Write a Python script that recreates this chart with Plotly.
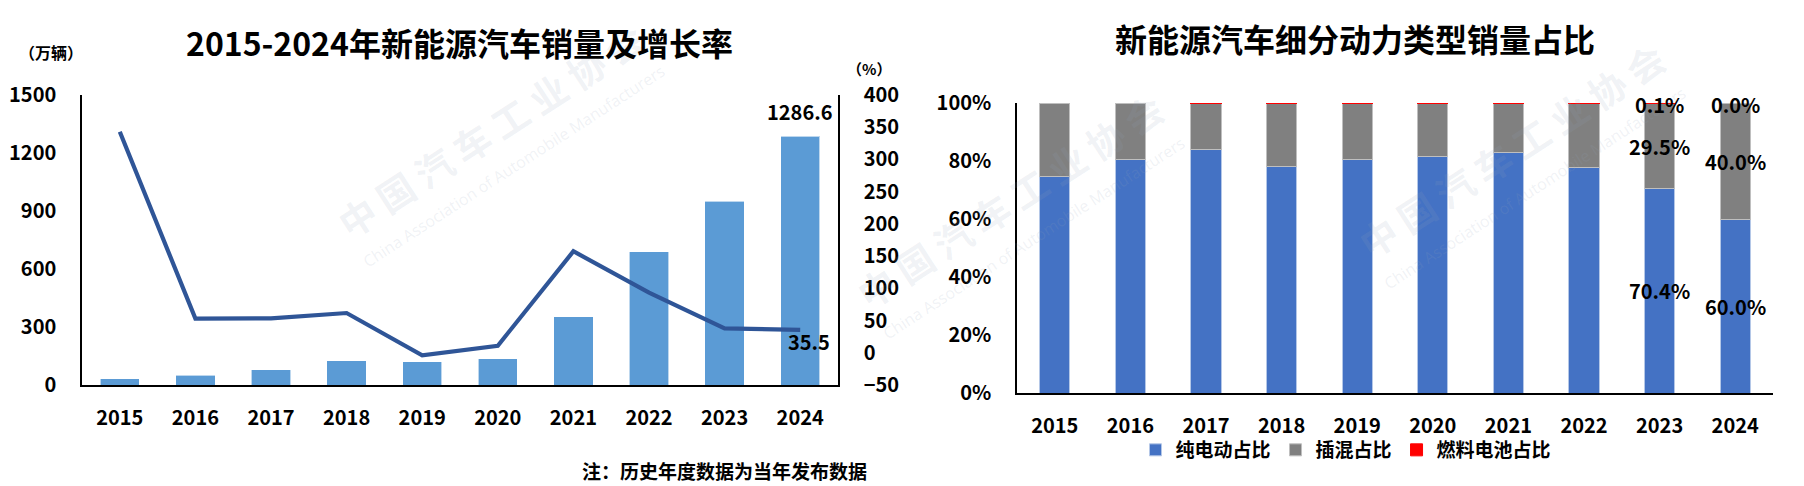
import plotly.graph_objects as go

# ---------------- data ----------------
years = [2015, 2016, 2017, 2018, 2019, 2020, 2021, 2022, 2023, 2024]
year_labels = ["2015", "2016", "2017", "2018", "2019", "2020", "2021", "2022", "2023", "2024"]
sales = [33.1, 50.7, 77.7, 125.6, 120.6, 136.7, 352.1, 688.7, 949.5, 1286.6]      # 万辆
growth = [342.9, 53.0, 53.3, 61.7, -4.0, 10.9, 157.5, 93.4, 37.9, 35.5]           # %

bev_share = [74.7, 80.6, 84.0, 78.0, 80.6, 81.5, 82.8, 77.8, 70.4, 60.0]
phev_share = [25.3, 19.4, 15.7, 21.7, 19.1, 18.2, 16.9, 21.9, 29.5, 40.0]
fcv_share = [None, None, 0.3, 0.3, 0.4, 0.3, 0.3, 0.3, 0.1, None]
fcv_label = [0.0, 0.0, 0.3, 0.3, 0.4, 0.3, 0.3, 0.3, 0.1, 0.0]
labeled_years = [2023, 2024]

left_title = "2015-2024年新能源汽车销量及增长率"
right_title = "新能源汽车细分动力类型销量占比"
note = "注：历史年度数据为当年发布数据"
wm_cn = "中 国 汽 车 工 业 协 会"
wm_en = "China Association of Automobile Manufacturers"

W, H = 1804, 486
FONT = "Noto Sans CJK SC"


def px(x):
    return x / W


def py(y):
    return 1 - y / H


fig = go.Figure()

# ---------- left chart ----------
fig.add_trace(go.Bar(
    x=years, y=sales, name="销量", marker=dict(color="#5B9BD5", line=dict(color="rgba(255,255,255,0.6)", width=1)),
    width=0.52, xaxis="x", yaxis="y", showlegend=False))
fig.add_trace(go.Scatter(
    x=years, y=growth, name="增长率", mode="lines", line=dict(color="#2F5597", width=4.2),
    xaxis="x", yaxis="y2", showlegend=False))

# ---------- right chart ----------
fig.add_trace(go.Bar(x=years, y=bev_share, name="纯电动占比", marker=dict(color="#4472C4", line=dict(color="#B4C7E7", width=1)),
                     width=0.4, xaxis="x3", yaxis="y3"))
fig.add_trace(go.Bar(x=years, y=phev_share, name="插混占比", marker=dict(color="#808080", line=dict(color="#BFBFBF", width=1)),
                     width=0.4, xaxis="x3", yaxis="y3"))
fig.add_trace(go.Bar(x=years, y=fcv_share, name="燃料电池占比", marker=dict(color="#FF0000", line=dict(color="#FF0000", width=1)),
                     width=0.4, xaxis="x3", yaxis="y3"))

tf = dict(family=FONT, size=20, color="#000000", weight="bold")
axis_line = dict(showline=True, linecolor="#000000", linewidth=1.5, showgrid=False, zeroline=False, ticks="",
                 tickfont=tf, automargin=False)
xcommon = dict(range=[years[0] - 0.5, years[-1] + 0.5], tickmode="array", tickvals=years, ticktext=year_labels,
               ticklabelstandoff=14, **axis_line)

L_dom = [px(82), px(838)]
L_ydom = [py(385), py(95)]
R_dom = [px(1017), px(1773)]
R_ydom = [py(393), py(103)]

fig.update_layout(
    width=W, height=H, margin=dict(l=0, r=0, t=0, b=0, pad=0),
    paper_bgcolor="white", plot_bgcolor="rgba(0,0,0,0)",
    font=dict(family=FONT, size=18, color="#000000", weight="bold"),
    barmode="stack",
    xaxis=dict(domain=L_dom, anchor="y", **xcommon),
    yaxis=dict(domain=L_ydom, anchor="x", range=[0, 1500], dtick=300, tick0=0, ticklabelstandoff=20, **axis_line),
    yaxis2=dict(domain=L_ydom, anchor="x", overlaying="y", side="right", range=[-50, 400], dtick=50, tick0=0,
                ticklabelstandoff=20, **axis_line),
    xaxis3=dict(domain=R_dom, anchor="y3", **xcommon),
    yaxis3=dict(domain=R_ydom, anchor="x3", range=[0, 100], dtick=20, ticksuffix="%", ticklabelstandoff=20, **axis_line),
    legend=dict(orientation="h", x=px(1346), xanchor="center", y=py(450), yanchor="middle",
                font=dict(family=FONT, size=19, color="#000000", weight="bold"),
                traceorder="normal", bgcolor="rgba(0,0,0,0)", itemwidth=30),
)

ann = []
# watermarks
wm_color = "rgba(150,162,184,0.15)"
for (cx, cy), (ex, ey) in [((490, 130), (514, 166)), ((1010, 200), (1034, 238)), ((1511, 150), (1535, 188))]:
    ann.append(dict(xref="paper", yref="paper", x=px(cx), y=py(cy), xanchor="center", yanchor="middle",
                    text=wm_cn, showarrow=False, textangle=-33,
                    font=dict(family=FONT, size=37, color=wm_color, weight="bold")))
    ann.append(dict(xref="paper", yref="paper", x=px(ex), y=py(ey), xanchor="center", yanchor="middle",
                    text=wm_en, showarrow=False, textangle=-33,
                    font=dict(family="Open Sans", size=16, color=wm_color, weight="normal")))

# titles
ann.append(dict(xref="paper", yref="paper", x=px(459), y=py(42), xanchor="center", yanchor="middle", text=left_title,
                showarrow=False, font=dict(family=FONT, size=32, color="#000000", weight="bold")))
ann.append(dict(xref="paper", yref="paper", x=px(1355), y=py(38), xanchor="center", yanchor="middle", text=right_title,
                showarrow=False, font=dict(family=FONT, size=32, color="#000000", weight="bold")))
# unit labels
ann.append(dict(xref="paper", yref="paper", x=px(51), y=py(52), xanchor="center", yanchor="middle", text="（万辆）",
                showarrow=False, font=dict(family=FONT, size=16, color="#000000", weight="bold")))
ann.append(dict(xref="paper", yref="paper", x=px(869), y=py(68), xanchor="center", yanchor="middle", text="（%）",
                showarrow=False, font=dict(family=FONT, size=15, color="#000000", weight="bold")))
# note
ann.append(dict(xref="paper", yref="paper", x=px(580), y=py(470), xanchor="left", yanchor="middle", text=note,
                showarrow=False, font=dict(family=FONT, size=19, color="#000000", weight="bold")))

# data labels left
ann.append(dict(xref="x", yref="y", x=years[-1], y=sales[-1], text=f"{sales[-1]:.1f}", showarrow=False,
                xanchor="center", yanchor="middle", yshift=25, font=tf))
ann.append(dict(xref="x", yref="y2", x=years[-1], y=growth[-1], text=f"{growth[-1]:.1f}", showarrow=False,
                xanchor="center", yanchor="middle", yshift=-12, xshift=9, font=tf))

# data labels right
for i, yr in enumerate(years):
    if yr not in labeled_years:
        continue
    b, p, f = bev_share[i], phev_share[i], fcv_label[i]
    ann.append(dict(xref="x3", yref="y3", x=yr, y=b / 2, text=f"{b:.1f}%", showarrow=False,
                    xanchor="center", yanchor="middle", font=tf))
    ann.append(dict(xref="x3", yref="y3", x=yr, y=b + p / 2, text=f"{p:.1f}%", showarrow=False,
                    xanchor="center", yanchor="middle", font=tf))
    ann.append(dict(xref="x3", yref="y3", x=yr, y=b + p + f, text=f"{f:.1f}%", showarrow=False,
                    xanchor="center", yanchor="middle", yshift=-2, font=tf))

fig.update_layout(annotations=ann)
fig.write_html("out.html", config={"displayModeBar": False},
               post_script="document.body.style.margin='0';document.body.style.overflow='hidden';")
